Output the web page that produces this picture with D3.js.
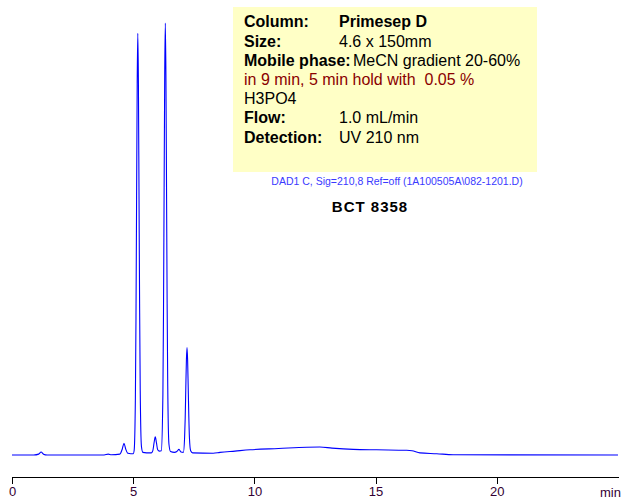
<!DOCTYPE html>
<html>
<head>
<meta charset="utf-8">
<script src="https://cdn.jsdelivr.net/npm/d3@7"></script>
<style>
  body { margin: 0; background: #fff; }
  svg { font-family: Arial, "Liberation Sans", sans-serif; }
</style>
</head>
<body>
<script>
// chromatogram, time (min) vs signal (mAU, baseline = 0)
var trace = [
  [0, 0], [0.9, 0], [1.1, 2], [1.2, 7], [1.3, 2], [1.45, 0], [2.0, 0], [3.8, 0],
  [3.97, 2], [4.1, 0.5], [4.45, 2], [4.55, 14], [4.62, 27], [4.69, 14], [4.78, 4], [4.9, 3],
  [5.0, 3], [5.04, 11], [5.09, 132], [5.115, 317], [5.14, 592], [5.165, 861], [5.19, 976],
  [5.215, 861], [5.24, 600], [5.265, 340], [5.29, 150], [5.34, 20], [5.40, 6],
  [5.55, 5], [5.75, 5], [5.81, 10], [5.86, 28], [5.91, 42], [5.96, 28], [6.01, 12], [6.08, 9],
  [6.16, 10], [6.225, 140], [6.25, 330], [6.275, 610], [6.30, 880], [6.325, 1000],
  [6.35, 880], [6.375, 620], [6.40, 350], [6.425, 160], [6.475, 25], [6.54, 8],
  [6.70, 6], [6.80, 8], [6.89, 13], [6.97, 7],
  [7.07, 6], [7.12, 40], [7.145, 85], [7.17, 155], [7.195, 220], [7.22, 249], [7.245, 220],
  [7.27, 155], [7.295, 88], [7.32, 40], [7.37, 10], [7.45, 5],
  [8.3, 4], [8.58, 6], [9.2, 9], [9.82, 12], [11.0, 15], [12.16, 18], [12.7, 18.5],
  [13.2, 16], [14.08, 13], [15.04, 12], [16.28, 11], [16.5, 10], [16.83, 5], [17.52, 3],
  [18.2, 0.5], [25, 0]
];

var xTicks = [0, 5, 10, 15, 20];
var xUnit = "min";

var infoLabels = ["Column:", "Size:", "Mobile phase:", "", "", "Flow:", "Detection:"];
var infoValues = ["Primesep D", "4.6 x 150mm", "MeCN gradient 20-60%",
                  "in 9 min, 5 min hold with  0.05 %", "H3PO4", "1.0 mL/min", "UV 210 nm"];
var signalName = "DAD1 C, Sig=210,8 Ref=off (1A100505A\\082-1201.D)";
var sampleName = "BCT 8358";

var width = 628, height = 502;

var svg = d3.select("body").append("svg")
    .attr("width", width)
    .attr("height", height);

var x = d3.scaleLinear().domain([0, 25]).range([12, 618]);
var y = d3.scaleLinear().domain([0, 1000]).range([455, 23]);

// info box
svg.append("rect")
    .attr("x", 233).attr("y", 7)
    .attr("width", 304).attr("height", 165)
    .attr("fill", "#ffffc6");

var info = svg.append("g").attr("font-size", "16px");
infoLabels.forEach(function (lab, i) {
    var by = 27.3 + i * 19.2;
    if (lab) {
        info.append("text")
            .attr("x", 244).attr("y", by)
            .attr("font-weight", "bold")
            .text(lab);
    }
    var vx = 339;
    if (i == 2) vx = 353;
    if (i == 3 || i == 4) vx = 244;
    info.append("text")
        .attr("x", vx).attr("y", by)
        .attr("font-weight", i == 0 ? "bold" : "normal")
        .attr("fill", i == 3 ? "#8a0000" : "#000")
        .style("white-space", "pre")
        .text(infoValues[i]);
});

svg.append("text")
    .attr("x", 397).attr("y", 185)
    .attr("text-anchor", "middle")
    .attr("font-size", "10.5px")
    .attr("fill", "#3a3aff")
    .text(signalName);

svg.append("text")
    .attr("x", 370).attr("y", 211.5)
    .attr("text-anchor", "middle")
    .attr("font-size", "15px")
    .attr("font-weight", "bold")
    .attr("letter-spacing", "1px")
    .text(sampleName);

// trace
var line = d3.line()
    .x(function (d) { return x(d[0]); })
    .y(function (d) { return y(d[1]); })
    .curve(d3.curveMonotoneX);

svg.append("path")
    .datum(trace)
    .attr("d", line)
    .attr("fill", "none")
    .attr("stroke", "#0000ff")
    .attr("stroke-width", 1.1);

// x axis
var xAxis = d3.axisBottom(x)
    .tickValues(xTicks)
    .tickSizeInner(7)
    .tickSizeOuter(0)
    .tickPadding(3);

var ax = svg.append("g")
    .attr("transform", "translate(0,477)")
    .call(xAxis);
ax.select(".domain").attr("stroke", "#000").attr("shape-rendering", "crispEdges");
ax.selectAll(".tick line").attr("stroke", "#000").attr("shape-rendering", "crispEdges");
ax.selectAll(".tick text")
    .attr("font-family", "Arial, 'Liberation Sans', sans-serif")
    .attr("font-size", "13px")
    .attr("fill", "#330033");

svg.append("text")
    .attr("x", 600).attr("y", 496.5)
    .attr("font-size", "13px")
    .attr("fill", "#330033")
    .text(xUnit);
</script>
</body>
</html>
